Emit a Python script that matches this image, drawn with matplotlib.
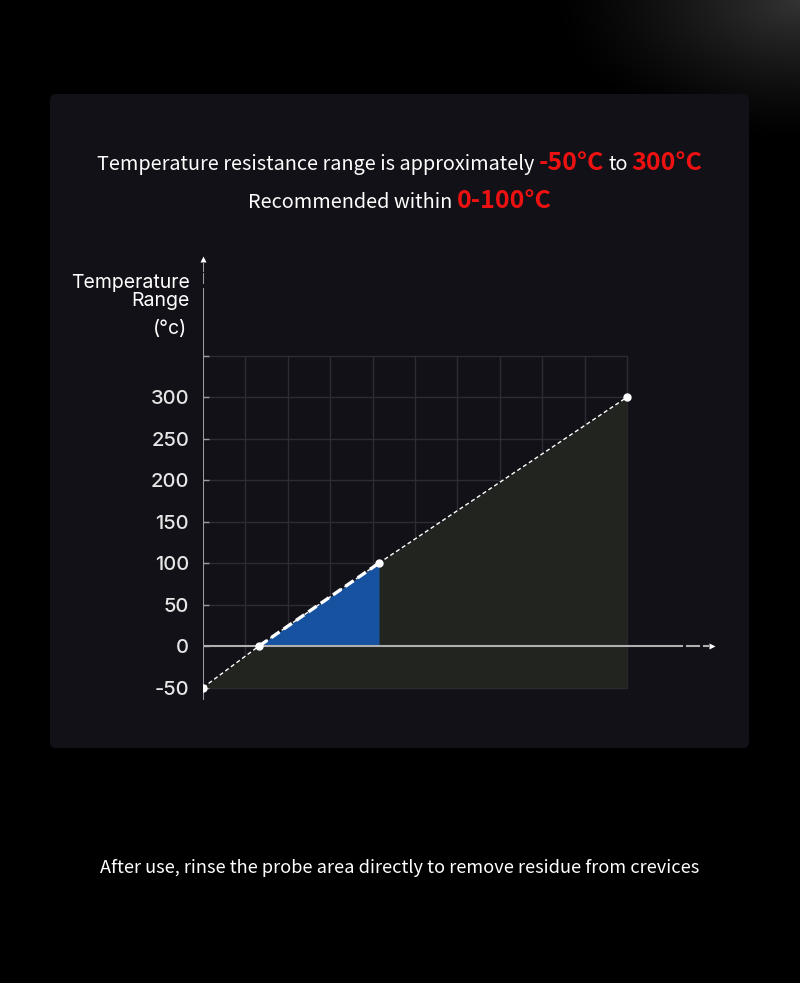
import numpy as np
import matplotlib.pyplot as plt
from matplotlib.patches import FancyBboxPatch

# data
x_pts = [0, 1.32, 4.15, 10]
y_pts = [-50, 0, 100, 300]
rec_x = [1.32, 4.15]
rec_y = [0, 100]
y_ticks = [-50, 0, 50, 100, 150, 200, 250, 300, 350]
y_labels = ['-50', '0', '50', '100', '150', '200', '250', '300', '']
x_grid = [1, 2, 3, 4, 5, 6, 7, 8, 9, 10]

CJK = ['Noto Sans CJK SC', 'DejaVu Sans']
LAT = ['Inter', 'DejaVu Sans']
W, H = 800, 983

fig = plt.figure(figsize=(W / 100, H / 100), dpi=100)
fig.patch.set_facecolor('#000000')

# background with faint glow top right
bg = fig.add_axes([0, 0, 1, 1])
bg.set_xlim(0, W)
bg.set_ylim(H, 0)
bg.axis('off')
gx, gy = np.meshgrid(np.linspace(0, 1, 300), np.linspace(0, 1, 300))
glow = np.clip(1 - np.hypot((gx - 1.0) * 3.2, (gy - 0.0) * 7), 0, 1) ** 1.3 * 0.2
img = np.dstack([glow, glow, glow])
bg.imshow(img, extent=[0, W, H, 0], aspect='auto', zorder=0)
panel = FancyBboxPatch((50, 94), 699, 654, boxstyle='round,pad=0,rounding_size=6',
                       facecolor='#111117', edgecolor='none', zorder=1)
bg.add_patch(panel)


def rich_line(y_px, parts, gap=5):
    texts = []
    for s, color, size, weight in parts:
        t = fig.text(0, 1 - y_px / H, s, color=color, fontsize=size, fontweight=weight,
                     family=CJK, va='baseline', ha='left')
        texts.append(t)
    r = fig.canvas.get_renderer()
    widths = [t.get_window_extent(r).width for t in texts]
    total = sum(widths) + gap * (len(texts) - 1)
    x = (W - total) / 2
    for t, w in zip(texts, widths):
        t.set_x(x / W)
        x += w + gap


rich_line(170, [('Temperature resistance range is approximately', 'white', 14.3, 'normal'),
                ('-50°C', '#ee1111', 18, 'bold'),
                ('to', 'white', 14.3, 'normal'),
                ('300°C', '#ee1111', 18, 'bold')], gap=4)
rich_line(208, [('Recommended within', 'white', 14.3, 'normal'),
                ('0-100°C', '#ee1111', 18, 'bold')], gap=4)

fig.text(0.5, 1 - 868 / H, 'After use, rinse the probe area directly to remove residue from crevices',
         color='white', fontsize=13.1, family=CJK, ha='center', va='center')

# main chart
ax = fig.add_axes([203 / W, 1 - 700 / H, 509 / W, 444 / H])
ax.set_facecolor('none')
ax.set_xlim(0, 12)
ax.set_ylim(-65, 470)
for s in ax.spines.values():
    s.set_visible(False)

grid_c = '#2c2d34'
ax.vlines(x_grid, -50, 350, color=grid_c, lw=1, zorder=1)
ax.hlines([v for v in y_ticks if v != 0], 0, 10, color=grid_c, lw=1, zorder=1)

ax.fill_between(x_pts, -50, y_pts, color='#22241f', lw=0, zorder=2)
ax.fill_between(rec_x, 0, rec_y, color='#1652a0', lw=0, zorder=3)

ax.plot(x_pts, y_pts, color='white', lw=1, ls=(0, (3, 2)), zorder=5)
ax.plot(rec_x, rec_y, color='white', lw=2.4, ls=(0, (3, 1.5)), zorder=6)
ax.plot(x_pts, y_pts, 'o', color='white', ms=5, zorder=7)

axis_c = '#9a9a9c'
# x axis with dashed tail and arrow
ax.plot([0, 11.3], [0, 0], color='#b0b0b0', lw=1.5, zorder=4)
ax.plot([11.4, 11.7], [0, 0], color='#b0b0b0', lw=1.5, zorder=4)
ax.plot([11.8, 11.9], [0, 0], color='#b0b0b0', lw=1.5, zorder=4)
ax.plot(12.0, 0, marker='>', color='white', ms=5, mec='none', zorder=4, clip_on=False)
# y axis with dashed tail and arrow
ax.plot([0, 0], [-65, 430], color=axis_c, lw=1.5, zorder=4)
ax.plot([0, 0], [437, 448], color=axis_c, lw=1.5, zorder=4)
ax.plot([0, 0], [452, 460], color=axis_c, lw=1.5, zorder=4)
ax.plot(0, 466, marker='^', color='white', ms=4, mec='none', zorder=4, clip_on=False)

ax.set_xticks([])
ax.set_yticks(y_ticks)
ax.set_yticklabels(y_labels)
ax.tick_params(axis='y', direction='in', length=4, width=1, color=axis_c,
               pad=10, labelsize=14.5, labelcolor='#e6e6e6')
for lab in ax.get_yticklabels():
    lab.set_family(LAT)
    lab.set_fontweight('medium')

fig.text(190 / W, 1 - 292 / H, 'Temperature\nRange', color='white', fontsize=14,
         family=LAT, ha='right', va='center', linespacing=1.05)
fig.text(187 / W, 1 - 329 / H, '(°c)', color='white', fontsize=14,
         family=LAT, ha='right', va='center')

fig.savefig('out.png', dpi=100, facecolor=fig.get_facecolor())
